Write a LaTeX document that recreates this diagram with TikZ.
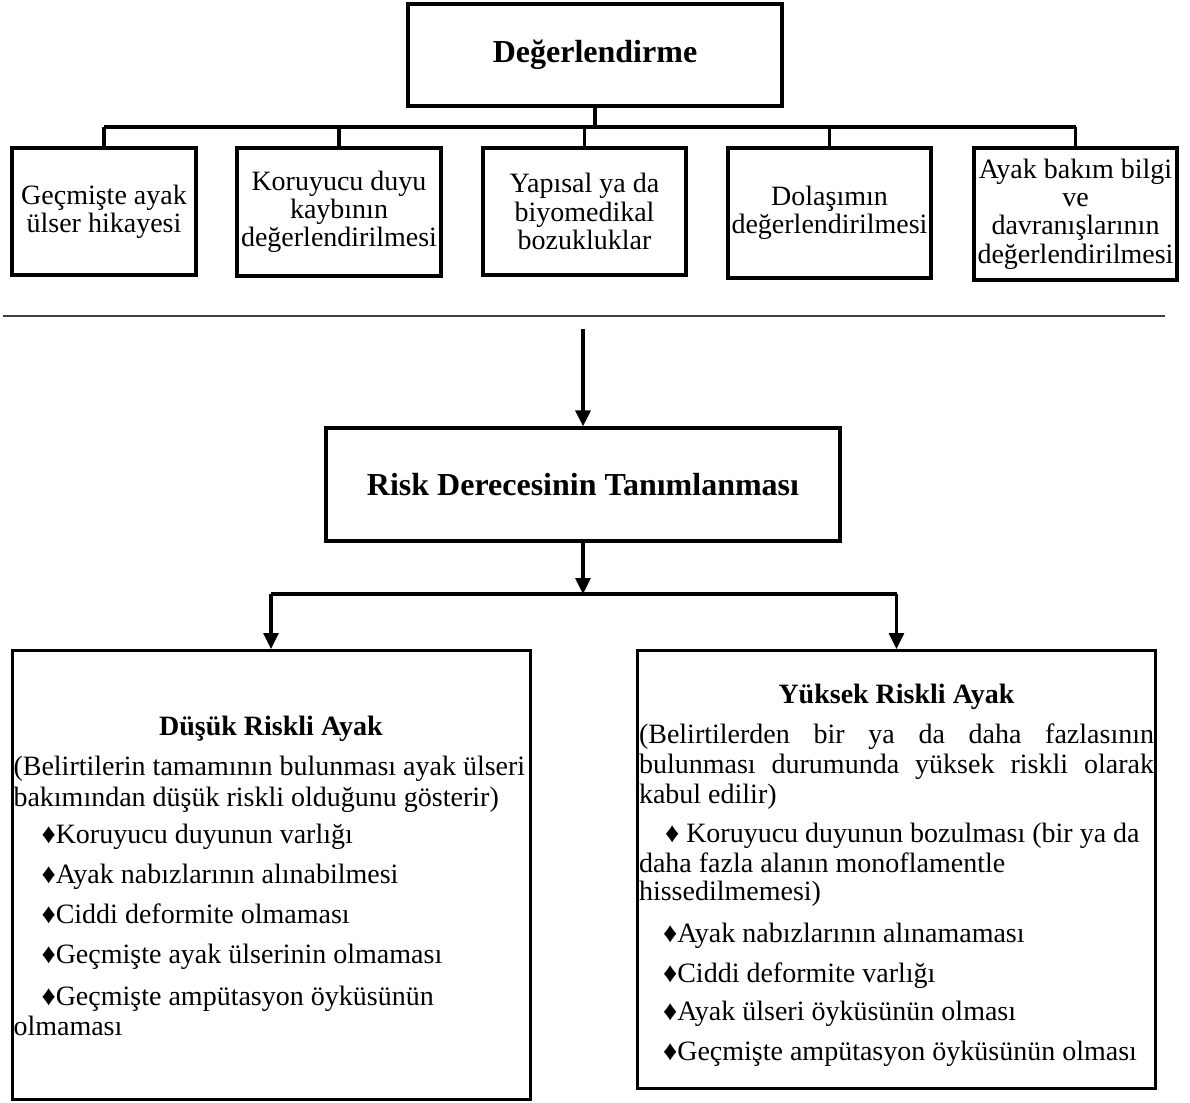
\documentclass[tikz,border=0pt]{standalone}
\usepackage{fontspec}
\setmainfont{Liberation Serif}
\usetikzlibrary{arrows.meta}

\begin{document}
\begin{tikzpicture}[x=1pt, y=-1pt,
    every node/.style={execute at begin node={\spaceskip=0pt\xspaceskip=0pt}},
    box/.style={draw, line width=3.2pt, align=center, inner sep=0pt, font=\fontsize{28}{28.3}\selectfont},
    title/.style={font=\bfseries\fontsize{32}{34}\selectfont},
    bigbox/.style={draw, line width=3pt, align=left, anchor=north, inner xsep=1.5pt, inner ysep=0pt, text width=515pt, font=\fontsize{28}{30}\selectfont},
    conn/.style={line width=3.2pt},
    arr/.style={line width=3.2pt, -{Triangle[length=16pt, width=15pt]}}]

    \useasboundingbox (0,0) rectangle (1190,1102);

    % Top level
    \node[box, title, minimum width=374pt, minimum height=102pt] (deg) at (595,55) {Değerlendirme};

    % Assessment items
    \node[box, minimum width=184pt, minimum height=127pt] (gecmis) at (104,211.5) {Geçmişte ayak\\ülser hikayesi};
    \node[box, minimum width=204pt, minimum height=128pt] (duyu) at (339,212) {Koruyucu duyu\\kaybının\\değerlendirilmesi};
    \node[box, minimum width=203pt, minimum height=127pt] (yapi) at (584.5,211.5) {Yapısal ya da\\biyomedikal\\bozukluklar};
    \node[box, minimum width=203pt, minimum height=130pt] (dolasim) at (829.5,213) {Dolaşımın\\değerlendirilmesi};
    \node[box, minimum width=203pt, minimum height=132pt] (bilgi) at (1075.5,214) {Ayak bakım bilgi\\ve\\davranışlarının\\değerlendirilmesi};

    % Tree lines
    \coordinate (bus) at (595,127);
    \draw[conn] (deg.south) -- (bus);
    \draw[conn] (gecmis.north |- bus) -- (bilgi.north |- bus);
    \draw[conn] (gecmis.north |- bus) -- (gecmis.north);
    \draw[conn] (duyu.north |- bus) -- (duyu.north);
    \draw[conn] (yapi.north |- bus) -- (yapi.north);
    \draw[conn] (dolasim.north |- bus) -- (dolasim.north);
    \draw[conn] (bilgi.north |- bus) -- (bilgi.north);

    % Separator
    \coordinate (ruleL) at (3,316);
    \coordinate (ruleR) at (1165,316);
    \draw[line width=2.2pt, black!75] (ruleL) -- (ruleR);

    % Risk level
    \node[box, title, minimum width=514pt, minimum height=113pt] (risk) at (583,484.5) {Risk Derecesinin Tanımlanması};
    \coordinate (start) at (583,329);
    \draw[arr] (start) -- (risk.north);

    % Low and high risk
    \node[bigbox, text height=85pt, text depth=364pt] (low) at (271,649) {%
        \makebox[515pt]{\bfseries Düşük Riskli Ayak}\\[10pt]
        \mbox{(Belirtilerin tamamının bulunması ayak ülseri}\\[1pt]
        bakımından düşük riskli olduğunu gösterir)\\[7pt]
        \hspace*{28pt}♦Koruyucu duyunun varlığı\\[10pt]
        \hspace*{28pt}♦Ayak nabızlarının alınabilmesi\\[10pt]
        \hspace*{28pt}♦Ciddi deformite olmaması\\[10pt]
        \hspace*{28pt}♦Geçmişte ayak ülserinin olmaması\\[12pt]
        \hspace*{28pt}♦Geçmişte ampütasyon öyküsünün\\
        olmaması};
    \node[bigbox, text height=53pt, text depth=385pt] (high) at (896.5,649) {%
        \makebox[515pt]{\bfseries Yüksek Riskli Ayak}\\[10pt]
        \makebox[515pt][s]{(Belirtilerden bir ya da daha fazlasının}\\
        \makebox[515pt][s]{bulunması durumunda yüksek riskli olarak}\\
        kabul edilir)\\[9pt]
        \hspace*{26pt}\mbox{♦ Koruyucu duyunun bozulması (bir ya da}\\
        daha fazla alanın monoflamentle\\[-2pt]
        hissedilmemesi)\\[12pt]
        \hspace*{24pt}♦Ayak nabızlarının alınamaması\\[10pt]
        \hspace*{24pt}♦Ciddi deformite varlığı\\[8pt]
        \hspace*{24pt}♦Ayak ülseri öyküsünün olması\\[10pt]
        \hspace*{24pt}♦Geçmişte ampütasyon öyküsünün olması};

    \coordinate (split) at (583,594);
    \draw[arr] (risk.south) -- (split);
    \draw[conn] (low.north |- split) -- (high.north |- split);
    \draw[arr] (low.north |- split) -- (low.north);
    \draw[arr] (high.north |- split) -- (high.north);

\end{tikzpicture}
\end{document}
